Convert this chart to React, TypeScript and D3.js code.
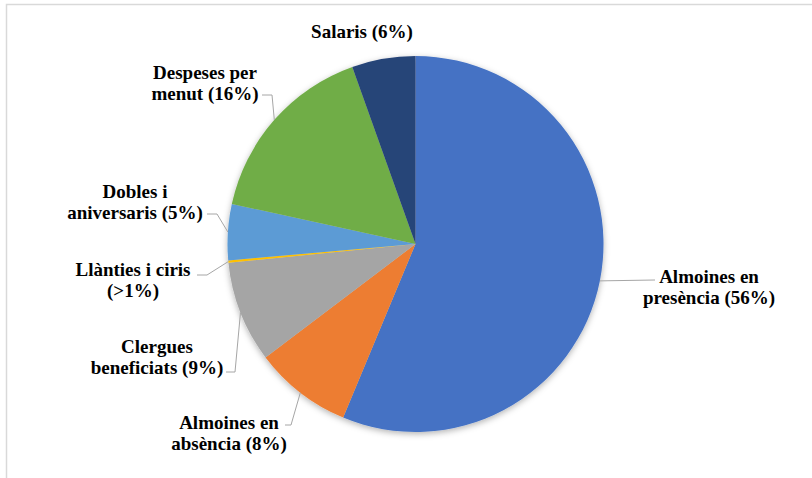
import * as d3 from 'd3';
import React from 'react';

const categories = [
  'Almoines en presència',
  'Almoines en absència',
  'Clergues beneficiats',
  'Llànties i ciris',
  'Dobles i aniversaris',
  'Despeses per menut',
  'Salaris',
];
const shares = [56.2, 8.4, 8.7, 0.2, 4.8, 16.1, 5.45];
const labelLines = [
  ['Almoines en', 'presència (56%)'],
  ['Almoines en', 'absència (8%)'],
  ['Clergues', 'beneficiats (9%)'],
  ['Llànties i ciris', '(>1%)'],
  ['Dobles i', 'aniversaris (5%)'],
  ['Despeses per', 'menut (16%)'],
  ['Salaris (6%)'],
];
const colors = ['#4472C4', '#ED7D31', '#A5A5A5', '#FFC000', '#5B9BD5', '#70AD47', '#264478'];

// label placement: centre x, first baseline, leader elbow (null = no leader)
const labelLayout: { x: number; y: number; elbow: [number, number][] | null }[] = [
  { x: 709, y: 283, elbow: [[655, 280]] },
  { x: 229, y: 429, elbow: [[285, 425], [291, 425]] },
  { x: 157, y: 353, elbow: [[226, 372], [235, 372]] },
  { x: 133, y: 276, elbow: [[197, 275], [207, 275]] },
  { x: 135, y: 198, elbow: [[207, 214], [217, 214]] },
  { x: 205, y: 79, elbow: [[262, 95], [272, 95]] },
  { x: 362, y: 38, elbow: null },
];

const width = 812;
const height = 478;
const cx = 415.5;
const cy = 244;
const radius = 188;
const font = '"Liberation Serif", "Times New Roman", "DejaVu Serif", serif';

export default function App() {
  const pie = d3.pie<number>().sort(null).value((d) => d);
  const arcs = pie(shares);
  const arc = d3.arc<d3.PieArcDatum<number>>().innerRadius(0).outerRadius(radius);
  const edge = d3.arc<d3.PieArcDatum<number>>().innerRadius(radius).outerRadius(radius);
  const line = d3.line();

  return (
    <svg
      width={width}
      height={height}
      style={{ position: 'absolute', left: 0, top: 0, fontFamily: font }}
    >
      <defs>
        <filter id="shadow" x="-10%" y="-10%" width="120%" height="120%">
          <feDropShadow dx="0" dy="2" stdDeviation="3" floodColor="#000" floodOpacity="0.3" />
        </filter>
      </defs>
      <rect x={0} y={0} width={width} height={height} fill="#fff" />
      <rect x={6.5} y={4.5} width={width + 20} height={height + 20} fill="none" stroke="#d9d9d9" strokeWidth={1.5} />
      <g transform={`translate(${cx},${cy})`} filter="url(#shadow)">
        {arcs.map((a, i) => (
          <path key={categories[i]} d={arc(a) || ''} fill={colors[i]} />
        ))}
      </g>
      {arcs.map((a, i) => {
        const lay = labelLayout[i];
        if (!lay.elbow) return null;
        const [px, py] = edge.centroid(a);
        const pts: [number, number][] = [...lay.elbow, [cx + px, cy + py]];
        return (
          <path key={'l' + i} d={line(pts) || ''} fill="none" stroke="#a6a6a6" strokeWidth={1} />
        );
      })}
      {labelLines.map((lines, i) => (
        <text
          key={'t' + i}
          x={labelLayout[i].x}
          y={labelLayout[i].y}
          textAnchor="middle"
          fontSize={19}
          fontWeight="bold"
          fill="#000"
          style={{ fontFamily: font }}
        >
          {lines.map((s, j) => (
            <tspan key={j} x={labelLayout[i].x} dy={j === 0 ? 0 : 21}>
              {s}
            </tspan>
          ))}
        </text>
      ))}
    </svg>
  );
}
